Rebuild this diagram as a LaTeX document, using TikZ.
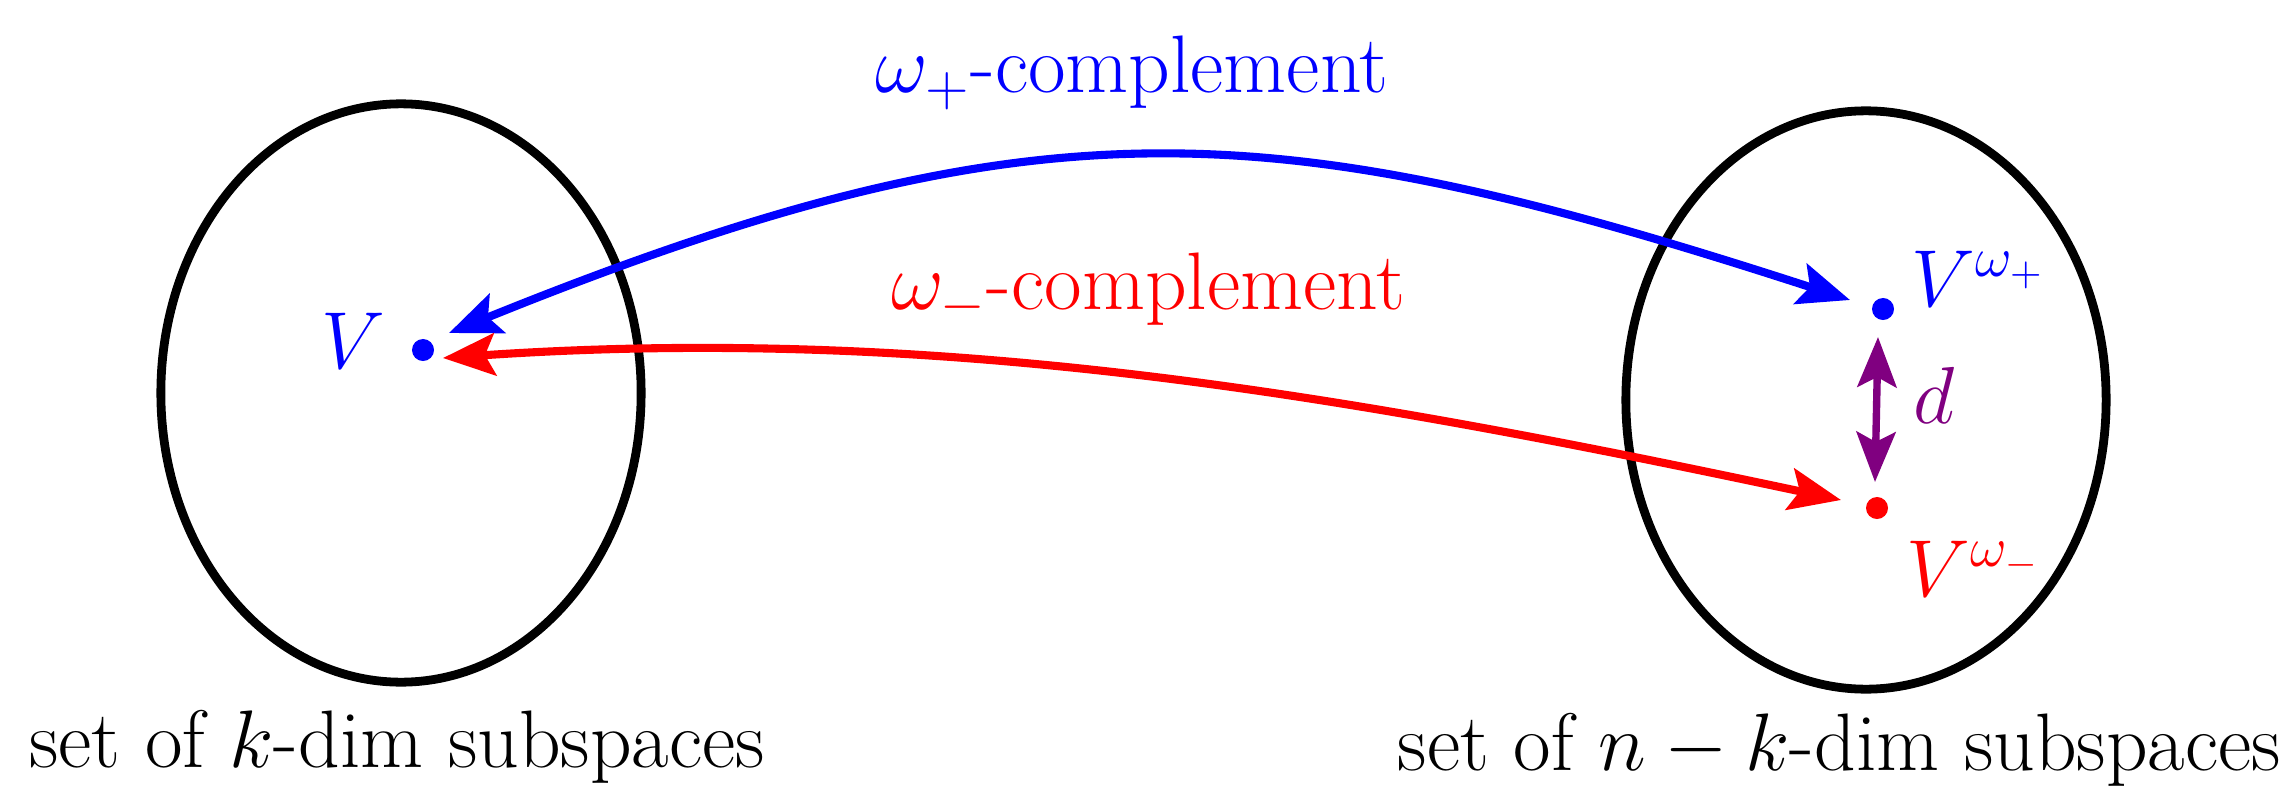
\RequirePackage{fix-cm}
\documentclass[tikz,border=0pt]{standalone}
\usepackage{fontspec}
\usetikzlibrary{arrows.meta,shapes.geometric}
\definecolor{dpurple}{RGB}{128,0,128}
\tikzset{
  setell/.style={draw=black, line width=2.5pt, ellipse, inner sep=0pt, minimum width=4.8cm, minimum height=5.78cm},
  dot/.style={circle, fill=#1, inner sep=0pt, minimum size=0.22cm},
  conn/.style={line width=2.3pt, {Stealth[length=5.2mm, width=4.2mm, inset=1mm]}-{Stealth[length=5.2mm, width=4.2mm, inset=1mm]}},
  dconn/.style={line width=2.1pt, {Stealth[length=5mm, width=3.9mm, inset=1mm]}-{Stealth[length=5mm, width=3.9mm, inset=1mm]}},
  txt/.style={inner sep=0pt, font=\fontsize{23.2}{28}\selectfont},
  mlab/.style={inner sep=0pt, font=\fontsize{23}{28}\selectfont},
}
\begin{document}
\begin{tikzpicture}[x=0.01cm, y=-0.01cm]
\useasboundingbox (0,0) rectangle (2293,803);
% sets
\node[setell] (L) at (401,393) {};
\node[setell] (R) at (1866,400) {};
% points
\node[dot=blue] (v) at (423,350) {};
\node[dot=blue] (vp) at (1883,309) {};
\node[dot=red] (vm) at (1877,508) {};
% labels of points
\node[mlab, text=blue] (vl) at (353,341) {$V$};
\node[mlab, text=blue, anchor=base west] (vpl) at (1911,306) {$V^{\omega_+}$};
\node[mlab, text=red, anchor=base west] (vml) at (1906,596) {$V^{\omega_-}$};
\node[mlab, text=dpurple, anchor=base west] (dl) at (1913,423) {$d$};
% arrow ends
\coordinate (bL) at (449,333);
\coordinate (bR) at (1850,300);
\coordinate (rL) at (443,358);
\coordinate (rR) at (1841,500);
\coordinate (dT) at (1878,337);
\coordinate (dB) at (1875,482);
% connectors
\draw[conn, blue] (bL) .. controls (1040,94) and (1274,113) .. (bR);
\draw[conn, red] (rL) .. controls (944,324) and (1351,396) .. (rR);
\draw[dconn, dpurple] (dT) -- (dB);
% texts
\node[txt, text=blue, anchor=base] (tp) at (1132,93) {$\omega_+$-complement};
\node[txt, text=red, anchor=base] (tm) at (1148,309) {$\omega_-$-complement};
\node[txt, anchor=base] (sl) at (397,767) {set of $k$-dim subspaces};
\node[txt, anchor=base west] (sr) at (1397,770) {set of $n-k$-dim subspaces};
\end{tikzpicture}
\end{document}
